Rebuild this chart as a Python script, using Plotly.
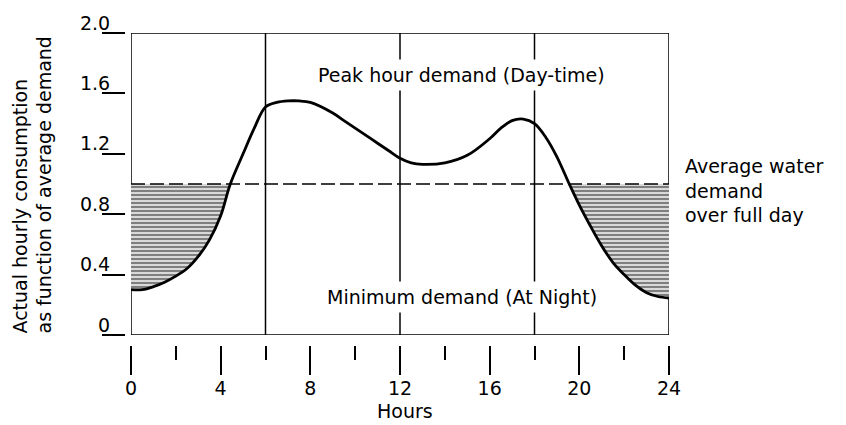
import plotly.graph_objects as go

# ---- data ----
hours = [0, 0.5, 1, 1.5, 2, 2.5, 3, 3.5, 4, 4.43, 5, 5.5, 6, 6.5, 7, 7.5, 8, 9, 9.5, 10,
         10.5, 11, 11.5, 12, 12.5, 13, 14, 15, 16, 16.5, 17, 17.5, 18, 18.5, 19, 19.55,
         20, 20.5, 21, 21.5, 22, 22.5, 23, 23.5, 24]
demand_ratio = [0.30, 0.30, 0.32, 0.35, 0.39, 0.44, 0.52, 0.63, 0.79, 1.00, 1.20, 1.37, 1.51,
                1.54, 1.55, 1.55, 1.54, 1.47, 1.42, 1.37, 1.32, 1.27, 1.22, 1.17, 1.14, 1.13,
                1.14, 1.19, 1.30, 1.37, 1.42, 1.43, 1.40, 1.31, 1.18, 1.00, 0.86, 0.72, 0.59,
                0.48, 0.40, 0.33, 0.28, 0.255, 0.245]
average_demand = 1.0
divider_hours = [6, 12, 18]
x_tick_values = [0, 4, 8, 12, 16, 20, 24]
x_tick_labels = ["0", "4", "8", "12", "16", "20", "24"]
x_minor_step = 2
y_tick_values = [0, 0.4, 0.8, 1.2, 1.6, 2.0]
y_tick_labels = ["0", "0.4", "0.8", "1.2", "1.6", "2.0"]
x_min, x_max = 0, 24
y_min, y_max = 0, 2.0

peak_label = "Peak hour demand (Day-time)"
min_label = "Minimum demand (At Night)"
avg_label = "Average water<br>demand<br>over full day"
y_title = "Actual hourly consumption<br>as function of average demand"
x_title = "Hours"

# ---- layout geometry (pixels) ----
W, H = 846, 425
L, R, T, B = 125, 177, 33, 80
plot_w = W - L - R
plot_h = H - T - B
x_dom0 = 6 / plot_w
y_dom0 = 10 / plot_h


def px_x(p):
    return (p - L) / plot_w


def px_y(p):
    return (H - B - p) / plot_h


FONT = "DejaVu Sans"
FS = 19

fig = go.Figure()

# hatched areas between the curve and the average line (night-time)
segments = [
    [(h, v) for h, v in zip(hours, demand_ratio) if h < 12 and v <= average_demand],
    [(h, v) for h, v in zip(hours, demand_ratio) if h > 12 and v <= average_demand],
]
for seg in segments:
    hs = [p[0] for p in seg]
    vs = [p[1] for p in seg]
    fig.add_trace(go.Scatter(x=hs, y=[average_demand] * len(hs), mode="lines",
                             line=dict(width=0, color="rgba(0,0,0,0)"),
                             hoverinfo="skip", showlegend=False))
    fig.add_trace(go.Scatter(x=hs, y=vs, mode="lines",
                             line=dict(width=0, color="rgba(0,0,0,0)", shape="spline"),
                             fill="tonexty", fillcolor="white",
                             fillpattern=dict(shape="-", fgcolor="black", bgcolor="white",
                                              size=4, solidity=0.65),
                             hoverinfo="skip", showlegend=False))

# average line (dashed)
fig.add_trace(go.Scatter(x=[x_min, x_max], y=[average_demand, average_demand], mode="lines",
                         line=dict(color="black", width=1.4, dash="14px,5px"),
                         hoverinfo="skip", showlegend=False))

# demand curve
fig.add_trace(go.Scatter(x=hours, y=demand_ratio, mode="lines",
                         line=dict(color="black", width=2.8, shape="spline", smoothing=1),
                         showlegend=False))

shapes = [dict(type="rect", xref="x", yref="y", x0=x_min, x1=x_max, y0=y_min, y1=y_max,
               line=dict(color="black", width=1.5), layer="below")]
for dh in divider_hours:
    shapes.append(dict(type="line", xref="x", yref="y", x0=dh, x1=dh, y0=y_min, y1=y_max,
                       line=dict(color="black", width=1.5), layer="below"))

annotations = [
    dict(text=peak_label, x=14.75, y=1.72, xref="x", yref="y", showarrow=False,
         font=dict(family=FONT, size=FS, color="black"), bgcolor="white", borderpad=4),
    dict(text=min_label, x=14.75, y=0.25, xref="x", yref="y", showarrow=False,
         font=dict(family=FONT, size=FS, color="black"), bgcolor="white", borderpad=4),
    dict(text=avg_label, x=px_x(683), y=0.96, xref="paper", yref="y",
         xanchor="left", yanchor="middle", align="left", showarrow=False,
         font=dict(family=FONT, size=FS, color="black")),
    dict(text=y_title, x=px_x(32), y=px_y(336), xref="paper",
         yref="paper", xanchor="center", yanchor="bottom", align="left", textangle=-90,
         showarrow=False, font=dict(family=FONT, size=FS, color="black")),
    dict(text=x_title, x=px_x(405), y=px_y(411), xref="paper", yref="paper",
         xanchor="center", yanchor="middle", showarrow=False,
         font=dict(family=FONT, size=FS, color="black")),
]

fig.update_layout(
    width=W, height=H,
    margin=dict(l=L, r=R, t=T, b=B, pad=0, autoexpand=False),
    paper_bgcolor="white", plot_bgcolor="white",
    font=dict(family=FONT, size=FS, color="black"),
    shapes=shapes, annotations=annotations,
    showlegend=False,
    xaxis=dict(domain=[x_dom0, 1], range=[x_min, x_max], anchor="free", position=0,
               automargin=False,
               showline=False, showgrid=False, zeroline=False,
               ticks="outside", ticklen=29, tickwidth=1.5, tickcolor="black",
               tickvals=x_tick_values, ticktext=x_tick_labels,
               tickfont=dict(family=FONT, size=FS), ticklabelstandoff=-3,
               minor=dict(dtick=x_minor_step, tick0=0, ticks="outside", ticklen=14,
                          tickwidth=1.5, tickcolor="black", showgrid=False)),
    yaxis=dict(domain=[y_dom0, 1], range=[y_min, y_max], anchor="free", position=0,
               automargin=False,
               showline=False, showgrid=False, zeroline=False,
               ticks="outside", ticklen=23, tickwidth=1.5, tickcolor="black",
               tickvals=y_tick_values, ticktext=y_tick_labels,
               tickfont=dict(family=FONT, size=FS),
               ticklabelshift=-10, ticklabelstandoff=-12),
)

fig.write_html("out.html", config={"displayModeBar": False},
               post_script="document.body.style.margin='0';document.body.style.overflow='hidden';")
